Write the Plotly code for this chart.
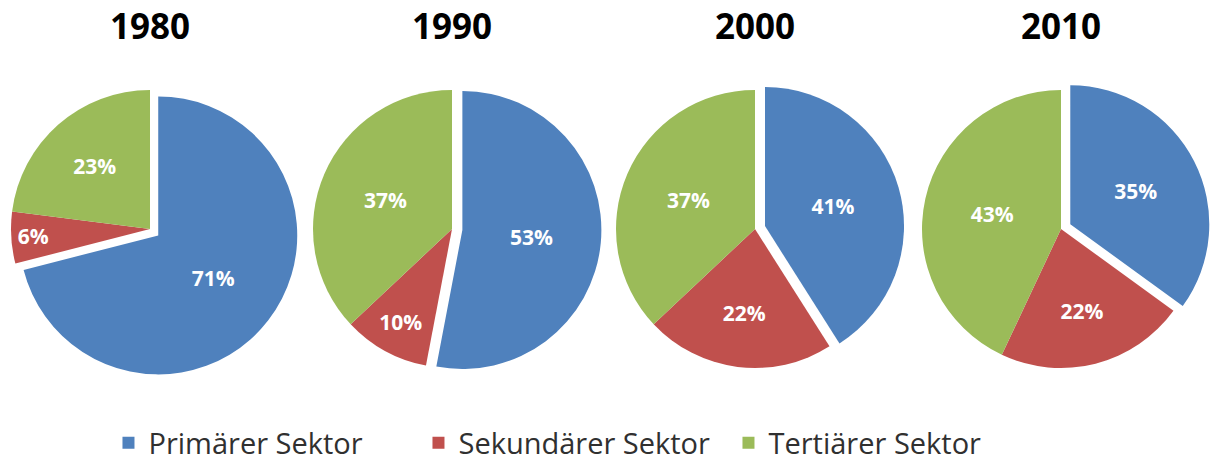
import plotly.graph_objects as go

years = ["1980", "1990", "2000", "2010"]
sectors = ["Primärer Sektor", "Sekundärer Sektor", "Tertiärer Sektor"]
primary = [71, 53, 41, 35]
secondary = [6, 10, 22, 22]
tertiary = [23, 37, 37, 43]
colors = ["#4F81BD", "#C0504D", "#9BBB59"]

W, H = 1215, 461
centers_x = [150, 452, 755, 1061]
center_y = 229
radius = 139
pull = 0.075
half = radius * (1 + pull)

fig = go.Figure()
for i, yr in enumerate(years):
    cx = centers_x[i]
    fig.add_trace(go.Pie(
        labels=sectors,
        values=[primary[i], secondary[i], tertiary[i]],
        sort=False,
        direction="clockwise",
        rotation=0,
        pull=[pull, 0, 0],
        marker=dict(colors=colors, line=dict(width=0)),
        texttemplate="%{value}%",
        textposition="inside",
        insidetextorientation="horizontal",
        textfont=dict(family="Open Sans", size=21, color="white", weight="bold"),
        hoverinfo="label+percent",
        showlegend=(i == 0),
        domain=dict(x=[(cx - half) / W, (cx + half) / W],
                    y=[1 - (center_y + half) / H, 1 - (center_y - half) / H]),
    ))
    fig.add_annotation(text=yr, x=cx / W, y=1 - 25 / H, xref="paper", yref="paper",
                       xanchor="center", yanchor="middle", showarrow=False,
                       font=dict(family="Open Sans", size=35, color="black", weight="bold"))

fig.update_layout(
    width=W, height=H,
    margin=dict(l=0, r=0, t=0, b=0, autoexpand=False),
    paper_bgcolor="white", plot_bgcolor="white",
    uniformtext=dict(minsize=21, mode="show"),
    legend=dict(orientation="h", x=0.472, xanchor="center",
                yref="container", y=1 - 443 / H, yanchor="middle",
                font=dict(family="Open Sans", size=29, color="#303030"),
                entrywidth=265, entrywidthmode="pixels"),
)

fig.write_html("out.html", config={"displayModeBar": False},
               post_script="document.body.style.margin='0';document.body.style.overflow='hidden';")
